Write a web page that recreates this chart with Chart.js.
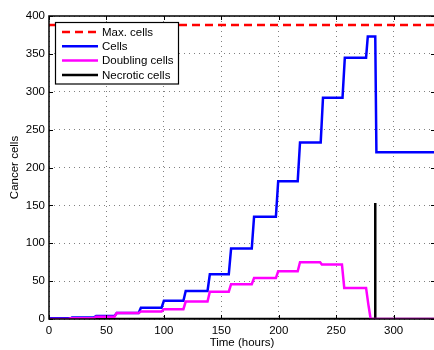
<!DOCTYPE html>
<html>
<head>
<meta charset="utf-8">
<title>Cancer cells</title>
<script src="https://cdn.jsdelivr.net/npm/chart.js@4.4.1/dist/chart.umd.min.js"></script>
<style>
    html, body { margin: 0; padding: 0; background: #ffffff; overflow: hidden; }
    #wrap { width: 434px; height: 350px; overflow: hidden; }
</style>
</head>
<body>
<div id="wrap"><canvas id="cellsChart" width="437" height="350"></canvas></div>
<script>
// Tick labels
const xTicks = [0, 50, 100, 150, 200, 250, 300];
const yTicks = [0, 50, 100, 150, 200, 250, 300, 350, 400];

// Max. cells (constant capacity)
const maxTime = [0, 336];
const maxValues = [388, 388];

// Cells
const cellsTime = [0, 19, 20, 39, 41, 57, 59, 78, 80, 98, 100, 117, 119, 138, 140, 156.5, 158.5, 176.5, 178.5, 197.5, 199.5, 216.5, 218.5, 236.5, 238.5, 255.5, 257.5, 276, 277.5, 284, 285, 336];
const cellsValues = [1, 1, 2, 2, 4, 4, 8, 8, 15, 15, 24, 24, 37, 37, 59, 59, 93, 93, 135, 135, 182, 182, 233, 233, 292, 292, 345, 345, 373, 373, 220, 220];

// Doubling cells
const doublingTime = [0, 17, 19, 39, 41, 57, 59, 78, 80, 98, 100, 117, 119, 138, 140, 156.5, 158.5, 176.5, 178.5, 197.5, 199.5, 216.5, 218.5, 236, 237.5, 255, 257, 276, 278, 280, 336];
const doublingValues = [0, 0, 1, 1, 3, 3, 8, 8, 10, 10, 13, 13, 23, 23, 36, 36, 46, 46, 54, 54, 63, 63, 75, 75, 72, 72, 41, 41, 19, 0, 0];

// Necrotic cells
const necroticTime = [0, 284, 284, 284, 336];
const necroticValues = [0, 0, 153, 0, 0];

const FONT = '"Liberation Sans", Arial, sans-serif';

function toPoints(xs, ys) {
    return xs.map((x, i) => ({ x: x, y: ys[i] }));
}

// Box with inward ticks on all four sides, like the original figure
const frameTicksPlugin = {
    id: 'frameTicks',
    afterDraw(chart) {
        const { ctx, chartArea: { left, right, top, bottom }, scales: { x, y } } = chart;
        ctx.save();
        ctx.strokeStyle = '#000000';
        ctx.lineWidth = 1.5;
        ctx.strokeRect(left, top, right - left, bottom - top);

        ctx.lineWidth = 1;
        ctx.beginPath();
        xTicks.forEach(v => {
            const px = Math.round(x.getPixelForValue(v)) + 0.5;
            ctx.moveTo(px, bottom); ctx.lineTo(px, bottom - 4);
            ctx.moveTo(px, top); ctx.lineTo(px, top + 4);
        });
        yTicks.forEach(v => {
            const py = Math.round(y.getPixelForValue(v)) + 0.5;
            ctx.moveTo(left, py); ctx.lineTo(left + 4, py);
            ctx.moveTo(right, py); ctx.lineTo(right - 4, py);
        });
        ctx.stroke();
        ctx.restore();
    }
};

// Boxed legend drawn inside the plot, top-left
const boxedLegendPlugin = {
    id: 'boxedLegend',
    afterDraw(chart) {
        const { ctx, chartArea: { left, top } } = chart;
        const datasets = chart.data.datasets;
        const bx = left + 6.5, by = top + 6.5, bw = 123, bh = 61.5;

        ctx.save();
        ctx.fillStyle = '#ffffff';
        ctx.fillRect(bx, by, bw, bh);
        ctx.strokeStyle = '#000000';
        ctx.lineWidth = 1.2;
        ctx.strokeRect(bx, by, bw, bh);

        ctx.font = '11.5px ' + FONT;
        ctx.textBaseline = 'middle';
        ctx.textAlign = 'left';
        datasets.forEach((ds, i) => {
            const ly = by + 9.5 + i * 14.3;
            ctx.beginPath();
            ctx.strokeStyle = ds.borderColor;
            ctx.lineWidth = ds.borderWidth;
            ctx.setLineDash(ds.borderDash || []);
            ctx.moveTo(bx + 6.5, ly);
            ctx.lineTo(bx + 42.5, ly);
            ctx.stroke();
            ctx.setLineDash([]);
            ctx.fillStyle = '#000000';
            ctx.fillText(ds.label, bx + 46.5, ly + 0.5);
        });
        ctx.restore();
    }
};

const ctx = document.getElementById('cellsChart').getContext('2d');
const cellsChart = new Chart(ctx, {
    type: 'line',
    data: {
        datasets: [
            {
                label: 'Max. cells',
                data: toPoints(maxTime, maxValues),
                borderColor: '#ff0000',
                borderWidth: 2.5,
                borderDash: [8, 5],
                order: 0
            },
            {
                label: 'Cells',
                data: toPoints(cellsTime, cellsValues),
                borderColor: '#0000ff',
                borderWidth: 2.5,
                order: 2
            },
            {
                label: 'Doubling cells',
                data: toPoints(doublingTime, doublingValues),
                borderColor: '#ff00ff',
                borderWidth: 2.5,
                order: 1
            },
            {
                label: 'Necrotic cells',
                data: toPoints(necroticTime, necroticValues),
                borderColor: '#000000',
                borderWidth: 2.5,
                order: 3
            }
        ]
    },
    plugins: [frameTicksPlugin, boxedLegendPlugin],
    options: {
        responsive: false,
        animation: false,
        devicePixelRatio: 1,
        layout: { padding: { top: 16, right: 2, left: 0, bottom: 0 } },
        elements: {
            point: { radius: 0 },
            line: { tension: 0, fill: false, borderCapStyle: 'butt', borderJoinStyle: 'miter' }
        },
        plugins: {
            legend: { display: false },
            tooltip: { enabled: false }
        },
        scales: {
            x: {
                type: 'linear',
                min: 0,
                max: 336,
                afterBuildTicks(scale) {
                    scale.ticks = xTicks.map(v => ({ value: v }));
                },
                afterFit(scale) { scale.height = 31; },
                border: { display: false, dash: [1, 4] },
                grid: {
                    color: '#808080',
                    lineWidth: 1,
                    drawTicks: false
                },
                ticks: {
                    padding: 5,
                    color: '#000000',
                    maxRotation: 0,
                    font: { family: FONT, size: 11.5 }
                },
                title: {
                    display: true,
                    text: 'Time (hours)',
                    color: '#000000',
                    padding: { top: 0, bottom: 0 },
                    font: { family: FONT, size: 11.5 }
                }
            },
            y: {
                min: 0,
                max: 400,
                afterBuildTicks(scale) {
                    scale.ticks = yTicks.map(v => ({ value: v }));
                },
                afterFit(scale) { scale.width = 49; },
                border: { display: false, dash: [1, 4] },
                grid: {
                    color: '#808080',
                    lineWidth: 1,
                    drawTicks: false
                },
                ticks: {
                    padding: 4,
                    color: '#000000',
                    font: { family: FONT, size: 11.5 }
                },
                title: {
                    display: true,
                    text: 'Cancer cells',
                    color: '#000000',
                    padding: { top: 8, bottom: 0 },
                    font: { family: FONT, size: 11.5 }
                }
            }
        }
    }
});
</script>
</body>
</html>
